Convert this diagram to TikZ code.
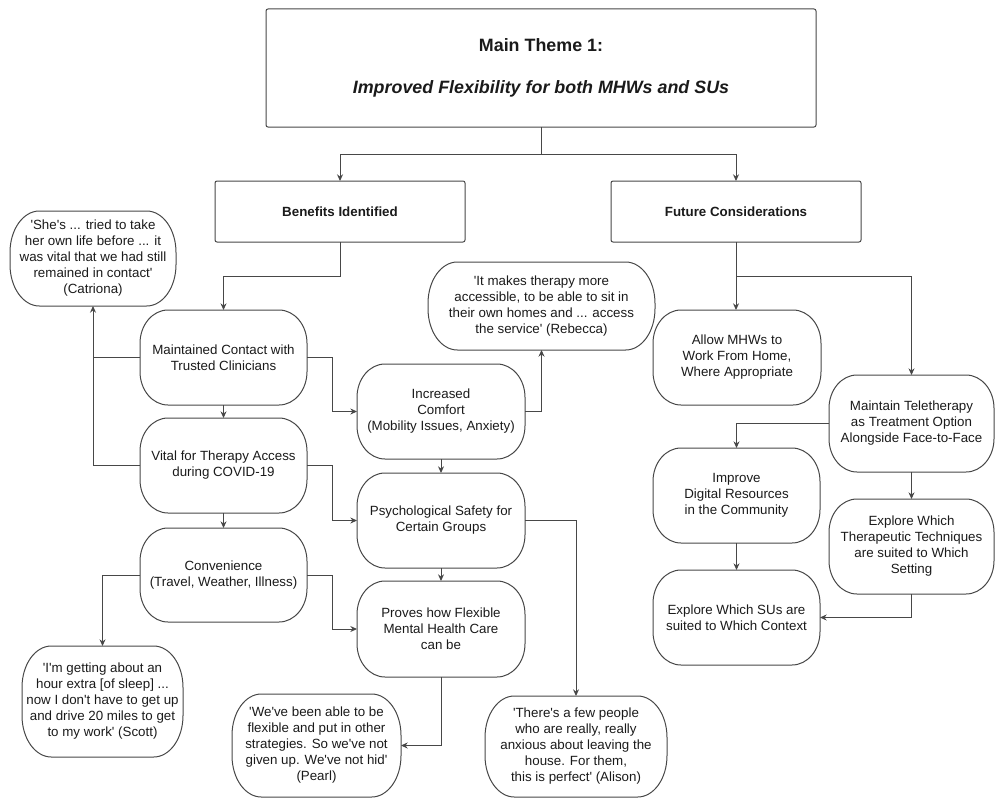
\documentclass[tikz,border=0pt]{standalone}
\usepackage{fontspec}
\setmainfont{Liberation Sans}
\usetikzlibrary{arrows.meta}
\definecolor{ln}{HTML}{474747}
\definecolor{tx}{HTML}{1A1A1A}
\newcommand\q{\textquotesingle}
% name, x1, y1, x2, y2, rx, ry, text
\newcommand\pillnode[8]{%
  \node[pilltext, minimum width={(#4-#2)*0.75pt}, minimum height={(#5-#3)*0.75pt}] (#1) at ({(#2+#4)/2},{(#3+#5)/2}) {#8};
  \draw[pilldraw] ([xshift=#6]#1.north west) -- ([xshift=-#6]#1.north east)
    arc[start angle=90, end angle=0, x radius=#6, y radius=#7]
    -- ([yshift=#7]#1.south east)
    arc[start angle=0, end angle=-90, x radius=#6, y radius=#7]
    -- ([xshift=#6]#1.south west)
    arc[start angle=270, end angle=180, x radius=#6, y radius=#7]
    -- ([yshift=-#7]#1.north west)
    arc[start angle=180, end angle=90, x radius=#6, y radius=#7]
    -- cycle;
}
\newcommand\procnode[6]{\pillnode{#1}{#2}{#3}{#4}{#5}{21pt}{25pt}{#6}}
\newcommand\quotenode[6]{\pillnode{#1}{#2}{#3}{#4}{#5}{22pt}{31pt}{#6}}
\tikzset{
  pilltext/.style={inner sep=0pt, outer sep=0pt, align=center, text=tx,
    font=\fontsize{10}{12}\selectfont},
  pilldraw/.style={draw=ln, line width=0.75pt},
  headbox/.style={draw=ln, line width=0.75pt, rounded corners=1.5pt, inner sep=0pt,
    outer sep=0pt, align=center, text=tx},
  arr/.style={draw=ln, line width=0.75pt, -{Stealth[length=5pt,width=4.5pt]}},
  ln/.style={draw=ln, line width=0.75pt},
}
\begin{document}
\begin{tikzpicture}[x=0.75pt, y=-0.75pt]
\useasboundingbox (0,0) rectangle (995,799);

% header boxes
\node[headbox, minimum width={550*0.75pt}, minimum height={118*0.75pt},
  font=\fontsize{13.4}{16}\selectfont] (main) at (541,68)
  {\textbf{Main Theme 1:}\\[16pt]\textbf{\textit{Improved Flexibility for both MHWs and SUs}}};
\node[headbox, minimum width={250*0.75pt}, minimum height={61*0.75pt},
  font=\fontsize{10}{12}\selectfont\bfseries] (bene) at (340,211.5) {Benefits Identified};
\node[headbox, minimum width={250*0.75pt}, minimum height={61*0.75pt},
  font=\fontsize{10}{12}\selectfont\bfseries] (fut) at (736,211.5) {Future Considerations};

% left / middle column
\quotenode{catr}{10}{211}{176}{306}{\q She\q s ... tried to take\\her own life before ... it\\was vital that we had still\\remained in contact\q\\(Catriona)}
\procnode{maint}{140}{310}{307}{405}{Maintained Contact with\\Trusted Clinicians}
\procnode{vital}{140}{418}{307}{513}{Vital for Therapy Access\\during COVID-19}
\procnode{conv}{140}{528}{307}{622}{Convenience\\(Travel, Weather, Illness)}
\quotenode{scott}{22}{646}{183}{757}{\q I\q m getting about an\\hour extra [of sleep] ...\\now I don\q t have to get up\\and drive 20 miles to get\\to my work\q\ (Scott)}
\quotenode{rebec}{428}{262}{655}{350}{\q It makes therapy more\\accessible, to be able to sit in\\their own homes and ... access\\the service\q\ (Rebecca)}
\procnode{incr}{357}{364}{525}{459}{Increased\\Comfort\\(Mobility Issues, Anxiety)}
\procnode{psych}{357}{473}{525}{568}{Psychological Safety for\\Certain Groups}
\procnode{proves}{357}{581}{525}{677}{Proves how Flexible\\Mental Health Care\\can be}
\quotenode{pearl}{232}{694}{401}{797}{\q We\q ve been able to be\\flexible and put in other\\strategies. So we\q ve not\\given up. We\q ve not hid\q\\(Pearl)}
\quotenode{alison}{485}{696}{667}{797}{\q There\q s a few people\\who are really, really\\anxious about leaving the\\house. For them,\\this is perfect\q\ (Alison)}

% right column
\procnode{allow}{653}{310}{821}{405}{Allow MHWs to\\Work From Home,\\Where Appropriate}
\procnode{tele}{829}{375}{994}{472}{Maintain Teletherapy\\as Treatment Option\\Alongside Face-to-Face}
\procnode{improve}{653}{448}{820}{543}{Improve\\Digital Resources\\in the Community}
\procnode{explsu}{653}{570}{820}{665}{Explore Which SUs are\\suited to Which Context}
\procnode{tech}{829}{499}{994}{594}{Explore Which\\Therapeutic Techniques\\are suited to Which\\Setting}

% connectors
\draw[arr] (main.south) -- ++(0,27) -| (bene.north);
\draw[arr] (main.south) -- ++(0,27) -| (fut.north);
\draw[arr] (bene.south) -- ++(0,34) -| (maint.north);
\draw[arr] (fut.south) -- (allow.north -| fut.south);
\draw[arr] (fut.south) -- ++(0,34) -| (tele.north);

\draw[arr] (vital.west) -| (catr.south);
\draw[ln] (maint.west) -- (maint.west -| catr.south);
\draw[arr] (maint.south) -- (vital.north);
\draw[arr] (vital.south) -- (conv.north);
\draw[arr] (conv.west) -| (scott.north);
\draw[arr] (maint.east) -- ++(25,0) |- (incr.west);
\draw[arr] (vital.east) -- ++(25,0) |- (psych.west);
\draw[arr] (conv.east) -- ++(25,0) |- (proves.west);
\draw[arr] (incr.east) -| (rebec.south);
\draw[arr] (incr.south) -- (psych.north);
\draw[arr] (psych.south) -- (proves.north);
\draw[arr] (psych.east) -| (alison.north);
\draw[arr] (proves.south) |- (pearl.east);

\draw[arr] (tele.west) -| (improve.north);
\draw[arr] (improve.south) -- (explsu.north);
\draw[arr] (tele.south) -- (tech.north);
\draw[arr] (tech.south) |- (explsu.east);
\end{tikzpicture}
\end{document}
